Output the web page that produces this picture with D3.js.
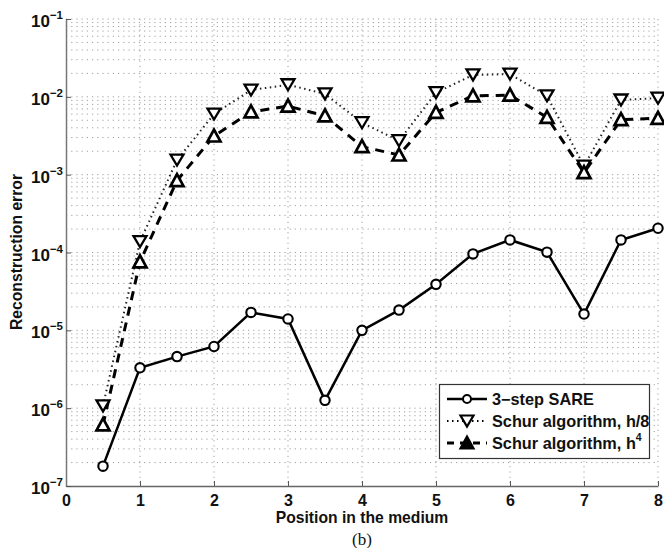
<!DOCTYPE html>
<html>
<head>
<meta charset="utf-8">
<script src="https://cdn.jsdelivr.net/npm/d3@7"></script>
<style>
  html, body { margin: 0; padding: 0; background: #fff; }
  svg { display: block; }
</style>
</head>
<body>
<svg id="chart" width="664" height="548"></svg>
<script>
// Positions along the medium
const positions = [0.5, 1, 1.5, 2, 2.5, 3, 3.5, 4, 4.5, 5, 5.5, 6, 6.5, 7, 7.5, 8];

// Reconstruction error per method
const sareError = [1.8e-7, 3.3e-6, 4.6e-6, 6.2e-6, 1.7e-5, 1.4e-5, 1.26e-6, 1.0e-5,
                   1.82e-5, 3.9e-5, 9.6e-5, 1.45e-4, 1.01e-4, 1.62e-5, 1.45e-4, 2.05e-4];
const schurH8Error = [1.07e-6, 1.38e-4, 1.54e-3, 6.0e-3, 1.22e-2, 1.43e-2, 1.09e-2, 4.65e-3,
                      2.73e-3, 1.13e-2, 1.91e-2, 1.96e-2, 1.03e-2, 1.29e-3, 9.1e-3, 9.6e-3];
const schurH4Error = [6.1e-7, 7.6e-5, 8.4e-4, 3.14e-3, 6.4e-3, 7.6e-3, 5.7e-3, 2.29e-3,
                      1.79e-3, 6.3e-3, 1.03e-2, 1.05e-2, 5.46e-3, 1.06e-3, 5.1e-3, 5.3e-3];

// Axis ticks
const xTicks = [0, 1, 2, 3, 4, 5, 6, 7, 8];
const yExponents = [-7, -6, -5, -4, -3, -2, -1];

const SANS = "'Liberation Sans', Arial, sans-serif";
const SERIF = "'Liberation Serif', 'Times New Roman', serif";

const svg = d3.select("#chart");
const plotLeft = 66, plotRight = 658, plotTop = 19, plotBottom = 486;

const x = d3.scaleLinear().domain([0, 8]).range([plotLeft, plotRight]);
const y = d3.scaleLog().domain([1e-7, 1e-1]).range([plotBottom, plotTop]);

const gridColor = "#a0a0a0";

// Horizontal grid: every decade and its minor steps
const yGridValues = [];
yExponents.forEach(e => {
  for (let m = 1; m <= 9; m++) {
    const v = m * Math.pow(10, e);
    if (v <= 1e-1 * 1.0001 && v > 1.0001e-7) yGridValues.push(v);
  }
});
svg.append("g").selectAll("line").data(yGridValues).join("line")
  .attr("x1", plotLeft).attr("x2", plotRight)
  .attr("y1", d => y(d)).attr("y2", d => y(d))
  .attr("stroke", gridColor).attr("stroke-width", 1)
  .attr("stroke-dasharray", "1.2,4");

// Vertical grid at integer positions
svg.append("g").selectAll("line").data(xTicks.slice(1)).join("line")
  .attr("x1", d => x(d)).attr("x2", d => x(d))
  .attr("y1", plotTop).attr("y2", plotBottom)
  .attr("stroke", gridColor).attr("stroke-width", 1)
  .attr("stroke-dasharray", "1.2,4");

// Axes
const xAxis = d3.axisBottom(x).tickValues(xTicks).tickSizeInner(-5).tickSizeOuter(0)
  .tickPadding(9).tickFormat(d3.format("d"));
const gx = svg.append("g").attr("transform", `translate(0,${plotBottom})`).call(xAxis);
gx.select(".domain").attr("stroke", "#666").attr("stroke-width", 1.5);
gx.selectAll(".tick line").attr("stroke", "#555");
gx.selectAll(".tick text")
  .style("font-family", SANS).style("font-weight", "bold").style("font-size", "16px")
  .attr("fill", "#111");

const yAxis = d3.axisLeft(y).tickValues(yExponents.map(e => Math.pow(10, e)))
  .tickSizeInner(-5).tickSizeOuter(0).tickFormat("");
const gy = svg.append("g").attr("transform", `translate(${plotLeft},0)`).call(yAxis);
gy.select(".domain").attr("stroke", "#777").attr("stroke-width", 1.5);
gy.selectAll(".tick line").attr("stroke", "#555");

// Power-of-ten tick labels
const yLab = svg.append("g").selectAll("text").data(yExponents).join("text")
  .attr("x", plotLeft - 3).attr("y", d => y(Math.pow(10, d)) + 8)
  .attr("text-anchor", "end").attr("fill", "#111")
  .style("font-family", SANS).style("font-weight", "bold").style("font-size", "17px");
yLab.append("tspan").text("10");
yLab.append("tspan").style("font-size", "11.5px").attr("dy", -8).text(d => "\u2212" + Math.abs(d));

// Series
const line = d3.line().x((d, i) => x(positions[i])).y(d => y(d));

svg.append("path").datum(schurH8Error).attr("d", line)
  .attr("fill", "none").attr("stroke", "#222").attr("stroke-width", 2)
  .attr("stroke-dasharray", "1.5,3.5");
svg.append("path").datum(schurH4Error).attr("d", line)
  .attr("fill", "none").attr("stroke", "#000").attr("stroke-width", 3)
  .attr("stroke-dasharray", "9,7");
svg.append("path").datum(sareError).attr("d", line)
  .attr("fill", "none").attr("stroke", "#000").attr("stroke-width", 2.5);

const downTri = "M-6.5,-5.5L6.5,-5.5L0,5.5Z";
const upTri = "M-6.5,5.5L6.5,5.5L0,-6.5Z";

svg.append("g").selectAll("path").data(schurH8Error).join("path")
  .attr("d", downTri)
  .attr("transform", (d, i) => `translate(${x(positions[i])},${y(d)})`)
  .attr("fill", "#fff").attr("stroke", "#000").attr("stroke-width", 2.3);
svg.append("g").selectAll("path").data(schurH4Error).join("path")
  .attr("d", upTri)
  .attr("transform", (d, i) => `translate(${x(positions[i])},${y(d)})`)
  .attr("fill", "#fff").attr("stroke", "#000").attr("stroke-width", 2.7);
svg.append("g").selectAll("circle").data(sareError).join("circle")
  .attr("cx", (d, i) => x(positions[i])).attr("cy", d => y(d)).attr("r", 4.7)
  .attr("fill", "#fff").attr("stroke", "#000").attr("stroke-width", 2.1);

// Axis titles
const boldText = (sel, size) => sel.attr("fill", "#111")
  .style("font-family", SANS).style("font-weight", "bold").style("font-size", size);
svg.append("text").attr("x", 362).attr("y", 523).attr("text-anchor", "middle")
  .call(boldText, "15.7px").text("Position in the medium");
svg.append("text").attr("transform", "translate(22,252) rotate(-90)")
  .attr("text-anchor", "middle").call(boldText, "15.7px").text("Reconstruction error");
svg.append("text").attr("x", 362).attr("y", 545).attr("text-anchor", "middle")
  .attr("fill", "#111")
  .style("font-family", SERIF).style("font-weight", "normal").style("font-size", "17px")
  .text("(b)");

// Legend
const legend = svg.append("g");
legend.append("rect").attr("x", 439.5).attr("y", 384.5).attr("width", 210).attr("height", 74)
  .attr("fill", "#fff").attr("stroke", "#333").attr("stroke-width", 1.2);
const legendRows = [
  { label: "3\u2212step SARE", dash: null, width: 2.5, marker: "circle" },
  { label: "Schur algorithm, h/8", dash: "1.5,3.5", width: 2, marker: "down" },
  { label: "Schur algorithm, h", sup: "4", dash: "7,6", width: 3, marker: "up" }
];
legendRows.forEach((r, i) => {
  const cy = 399 + i * 22;
  legend.append("line").attr("x1", 447).attr("x2", 487).attr("y1", cy).attr("y2", cy)
    .attr("stroke", "#000").attr("stroke-width", r.width)
    .attr("stroke-dasharray", r.dash);
  if (r.marker === "circle") {
    legend.append("circle").attr("cx", 467).attr("cy", cy).attr("r", 4)
      .attr("fill", "#fff").attr("stroke", "#000").attr("stroke-width", 2);
  } else {
    legend.append("path").attr("d", r.marker === "down" ? downTri : upTri)
      .attr("transform", `translate(467,${cy})`)
      .attr("fill", r.marker === "up" ? "#000" : "#fff")
      .attr("stroke", "#000").attr("stroke-width", 2.2);
  }
  const t = legend.append("text").attr("x", 492).attr("y", cy + 6).call(boldText, "16.3px");
  t.append("tspan").text(r.label);
  if (r.sup) t.append("tspan").style("font-size", "10.5px").attr("dy", -8).text(r.sup);
});
</script>
</body>
</html>
